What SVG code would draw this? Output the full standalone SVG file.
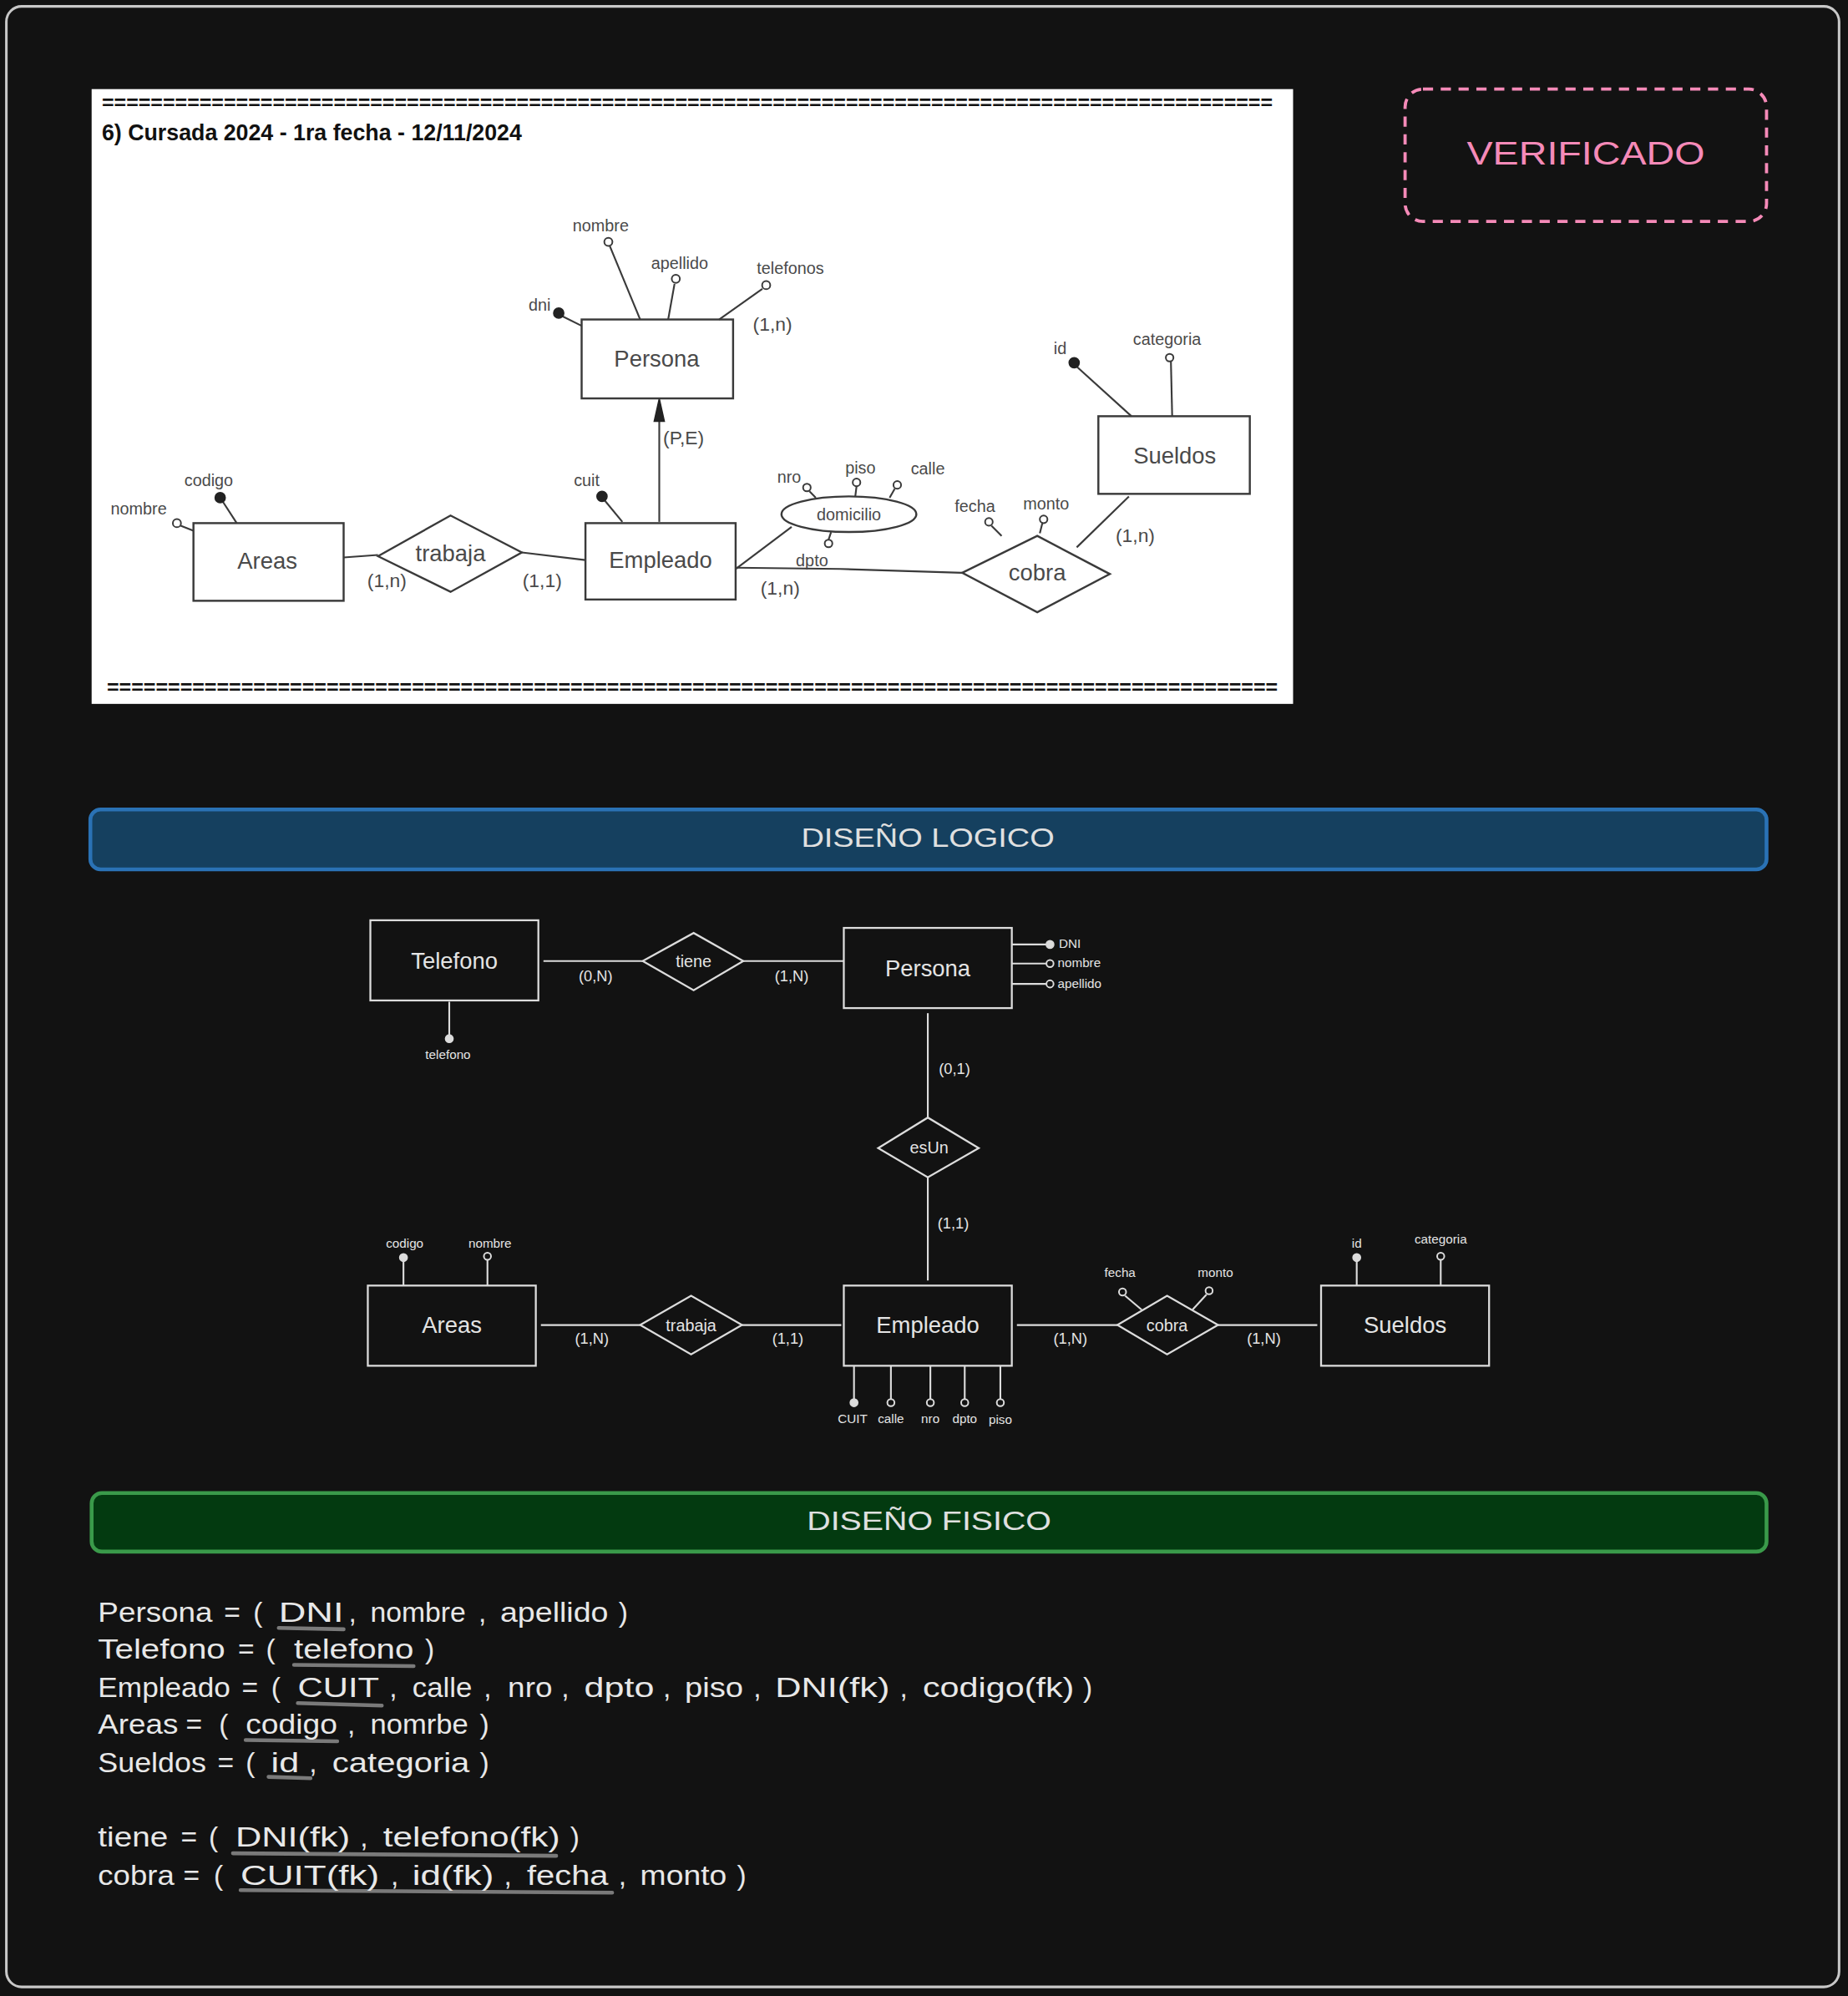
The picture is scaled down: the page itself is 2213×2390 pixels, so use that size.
<svg xmlns="http://www.w3.org/2000/svg" width="2213" height="2390" viewBox="0 0 2213 2390">
<defs>
<style>
.old line,.old polyline{stroke:#3a3a3a;stroke-width:1.4;fill:none}
.old rect,.old polygon.d,.old ellipse{stroke:#3a3a3a;stroke-width:1.6;fill:none}
.old text{font-family:"Liberation Sans",Arial,sans-serif;fill:#4a4a4a}
.oattr{font-size:13px}
.oent{font-size:18px}
.ocard{font-size:15px}
.ocO{fill:#fff;stroke:#3a3a3a;stroke-width:1.3}
.ocF{fill:#222;stroke:#222;stroke-width:1}
.eq{font-family:"Liberation Sans",Arial,sans-serif;font-weight:bold;font-size:16px;fill:#111}
.lg line{stroke:#dcdcdc;stroke-width:1.4}
.lg rect,.lg polygon{stroke:#dcdcdc;stroke-width:1.5;fill:none}
.lg text{font-family:"Liberation Sans",Arial,sans-serif;fill:#e4e4e4;text-anchor:middle}
.ent{font-size:18px}
.rel{font-size:13px}
.card{font-size:12px}
.att{font-size:10px}
.cO{fill:#121212;stroke:#dcdcdc;stroke-width:1.3}
.cF{fill:#dcdcdc;stroke:#dcdcdc;stroke-width:1}
.ph text{font-family:"Liberation Sans",Arial,sans-serif;font-size:22px;fill:#e8e8e8}
.ul{stroke:#7a7a7a;stroke-width:3;stroke-linecap:round}
.ban{font-family:"Liberation Sans",Arial,sans-serif;font-size:21px;fill:#e0e0e0;text-anchor:middle}
</style>
</defs>
<rect x="0" y="0" width="2213" height="2390" fill="#121212"/>
<g transform="scale(1.5241)">
<rect id="frame" x="5" y="5" width="1440" height="1556" rx="12" fill="#121212" stroke="#c8c8c8" stroke-width="2"/>

<g id="screenshot">
<rect x="72" y="70" width="944" height="483" fill="#ffffff"/>
<text class="eq" x="80" y="86" textLength="920" lengthAdjust="spacingAndGlyphs">================================================================================================</text>
<text x="80" y="110" font-family="Liberation Sans,Arial,sans-serif" font-weight="bold" font-size="18" fill="#111" textLength="330" lengthAdjust="spacingAndGlyphs">6) Cursada 2024 - 1ra fecha - 12/11/2024</text>
<text class="eq" x="84" y="545" textLength="920" lengthAdjust="spacingAndGlyphs">================================================================================================</text>
</g>

<g class="old">
<g id="o-connectors">
<line x1="518" y1="410" x2="518" y2="324"/>
<polygon points="518,313 514,331 522,331" fill="#222" stroke="#222"/>
<line x1="270" y1="438" x2="297" y2="436"/>
<line x1="410" y1="434" x2="460" y2="440"/>
<line x1="578" y1="447" x2="622" y2="414"/>
<polyline points="578,446 660,447 756,450"/>
<line x1="846" y1="430" x2="887" y2="390"/>
<line x1="441" y1="248" x2="457" y2="256"/>
<line x1="479" y1="193" x2="503" y2="251"/>
<line x1="530" y1="223" x2="525" y2="251"/>
<line x1="599" y1="227" x2="565" y2="251"/>
<line x1="175" y1="394" x2="186" y2="411"/>
<line x1="142" y1="413" x2="152" y2="417"/>
<line x1="475" y1="393" x2="489" y2="410"/>
<line x1="636" y1="386" x2="641" y2="391"/>
<line x1="673" y1="382" x2="672" y2="390"/>
<line x1="703" y1="384" x2="699" y2="391"/>
<line x1="653" y1="418" x2="651" y2="424"/>
<line x1="779" y1="413" x2="787" y2="421"/>
<line x1="819" y1="411" x2="817" y2="419"/>
<line x1="846" y1="288" x2="889" y2="327"/>
<line x1="920" y1="284" x2="921" y2="327"/>
</g>
<g id="o-persona">
<rect x="457" y="251" width="119" height="62"/>
<text class="oent" x="516" y="288" text-anchor="middle">Persona</text>
<circle class="ocF" cx="439" cy="246" r="4"/><text class="oattr" x="424" y="244" text-anchor="middle">dni</text>
<circle class="ocO" cx="478" cy="190" r="3.2"/><text class="oattr" x="472" y="182" text-anchor="middle">nombre</text>
<circle class="ocO" cx="531" cy="219" r="3.2"/><text class="oattr" x="534" y="211" text-anchor="middle">apellido</text>
<circle class="ocO" cx="602" cy="224" r="3.2"/><text class="oattr" x="621" y="215" text-anchor="middle">telefonos</text>
<text class="ocard" x="607" y="260" text-anchor="middle">(1,n)</text>
<text class="ocard" x="521" y="349">(P,E)</text>
</g>
<g id="o-areas">
<rect x="152" y="411" width="118" height="61"/>
<text class="oent" x="210" y="447" text-anchor="middle">Areas</text>
<circle class="ocF" cx="173" cy="391" r="4"/><text class="oattr" x="164" y="382" text-anchor="middle">codigo</text>
<circle class="ocO" cx="139" cy="411" r="3.2"/><text class="oattr" x="109" y="404" text-anchor="middle">nombre</text>
</g>
<g id="o-trabaja">
<polygon class="d" points="297,437 354,405 410,434 354,465"/>
<text class="oent" x="354" y="441" text-anchor="middle">trabaja</text>
<text class="ocard" x="304" y="461" text-anchor="middle">(1,n)</text>
<text class="ocard" x="426" y="461" text-anchor="middle">(1,1)</text>
</g>
<g id="o-empleado">
<rect x="460" y="411" width="118" height="60"/>
<text class="oent" x="519" y="446" text-anchor="middle">Empleado</text>
<circle class="ocF" cx="473" cy="390" r="4"/><text class="oattr" x="461" y="382" text-anchor="middle">cuit</text>
<text class="ocard" x="613" y="467" text-anchor="middle">(1,n)</text>
</g>
<g id="o-domicilio">
<ellipse cx="667" cy="404" rx="53" ry="14"/>
<text class="oattr" x="667" y="409" text-anchor="middle">domicilio</text>
<circle class="ocO" cx="634" cy="383" r="3"/><text class="oattr" x="620" y="379" text-anchor="middle">nro</text>
<circle class="ocO" cx="673" cy="379" r="3"/><text class="oattr" x="676" y="372" text-anchor="middle">piso</text>
<circle class="ocO" cx="705" cy="381" r="3"/><text class="oattr" x="729" y="373" text-anchor="middle">calle</text>
<circle class="ocO" cx="651" cy="427" r="3"/><text class="oattr" x="638" y="445" text-anchor="middle">dpto</text>
</g>
<g id="o-cobra">
<polygon class="d" points="756,450 815,421 872,451 815,481"/>
<text class="oent" x="815" y="456" text-anchor="middle">cobra</text>
<circle class="ocO" cx="777" cy="410" r="3"/><text class="oattr" x="766" y="402" text-anchor="middle">fecha</text>
<circle class="ocO" cx="820" cy="408" r="3"/><text class="oattr" x="822" y="400" text-anchor="middle">monto</text>
<text class="ocard" x="892" y="426" text-anchor="middle">(1,n)</text>
</g>
<g id="o-sueldos">
<rect x="863" y="327" width="119" height="61"/>
<text class="oent" x="923" y="364" text-anchor="middle">Sueldos</text>
<circle class="ocF" cx="844" cy="285" r="4"/><text class="oattr" x="833" y="278" text-anchor="middle">id</text>
<circle class="ocO" cx="919" cy="281" r="3"/><text class="oattr" x="917" y="271" text-anchor="middle">categoria</text>
</g>
</g>

<g id="verificado">
<rect x="1104" y="70" width="284" height="104" rx="14" fill="none" stroke="#f58ab8" stroke-width="2.5" stroke-dasharray="8,6"/>
<text x="1246" y="129" font-family="Liberation Sans,Arial,sans-serif" font-size="25" fill="#f58ab8" text-anchor="middle" textLength="187" lengthAdjust="spacingAndGlyphs">VERIFICADO</text>
</g>

<g id="banner-logico">
<rect x="71" y="636" width="1317" height="47" rx="8" fill="#15405f" stroke="#2a72b5" stroke-width="3"/>
<text class="ban" x="729" y="665" textLength="199" lengthAdjust="spacingAndGlyphs">DISEÑO LOGICO</text>
</g>

<g class="lg">
<g id="connectors">
<line x1="427" y1="755" x2="505" y2="755"/>
<line x1="584" y1="755" x2="663" y2="755"/>
<line x1="729" y1="796" x2="729" y2="878"/>
<line x1="729" y1="925" x2="729" y2="1006"/>
<line x1="425" y1="1041" x2="503" y2="1041"/>
<line x1="583" y1="1041" x2="661" y2="1041"/>
<line x1="799" y1="1041" x2="878" y2="1041"/>
<line x1="957" y1="1041" x2="1035" y2="1041"/>
</g>
<g id="telefono">
<rect x="291" y="723" width="132" height="63"/>
<text class="ent" x="357" y="761">Telefono</text>
<line x1="353" y1="787" x2="353" y2="813"/>
<circle class="cF" cx="353" cy="816" r="3"/>
<text class="att" x="352" y="832">telefono</text>
</g>
<g id="tiene">
<polygon points="505,755 545,733 584,755 545,778"/>
<text class="rel" x="545" y="760">tiene</text>
<text class="card" x="468" y="771">(0,N)</text>
<text class="card" x="622" y="771">(1,N)</text>
</g>
<g id="persona">
<rect x="663" y="729" width="132" height="63"/>
<text class="ent" x="729" y="767">Persona</text>
<line x1="795" y1="742" x2="822" y2="742"/><circle class="cF" cx="825" cy="742" r="3"/>
<line x1="795" y1="757" x2="822" y2="757"/><circle class="cO" cx="825" cy="757" r="2.8"/>
<line x1="795" y1="773" x2="822" y2="773"/><circle class="cO" cx="825" cy="773" r="2.8"/>
<text class="att" x="832" y="745" style="text-anchor:start">DNI</text>
<text class="att" x="831" y="760" style="text-anchor:start">nombre</text>
<text class="att" x="831" y="776" style="text-anchor:start">apellido</text>
<text class="card" x="750" y="844">(0,1)</text>
</g>
<g id="esUn">
<polygon points="690,902 729,878 769,902 729,925"/>
<text class="rel" x="730" y="906">esUn</text>
<text class="card" x="749" y="965">(1,1)</text>
</g>
<g id="areas">
<rect x="289" y="1010" width="132" height="63"/>
<text class="ent" x="355" y="1047">Areas</text>
<line x1="317" y1="1010" x2="317" y2="990"/><circle class="cF" cx="317" cy="988" r="3"/>
<line x1="383" y1="1010" x2="383" y2="990"/><circle class="cO" cx="383" cy="987" r="2.8"/>
<text class="att" x="318" y="980">codigo</text>
<text class="att" x="385" y="980">nombre</text>
</g>
<g id="trabaja">
<polygon points="503,1041 543,1018 583,1041 543,1064"/>
<text class="rel" x="543" y="1046">trabaja</text>
<text class="card" x="465" y="1056">(1,N)</text>
<text class="card" x="619" y="1056">(1,1)</text>
</g>
<g id="empleado">
<rect x="663" y="1010" width="132" height="63"/>
<text class="ent" x="729" y="1047">Empleado</text>
<line x1="671" y1="1073" x2="671" y2="1099"/><circle class="cF" cx="671" cy="1102" r="3"/>
<line x1="700" y1="1073" x2="700" y2="1099"/><circle class="cO" cx="700" cy="1102" r="2.8"/>
<line x1="731" y1="1073" x2="731" y2="1099"/><circle class="cO" cx="731" cy="1102" r="2.8"/>
<line x1="758" y1="1073" x2="758" y2="1099"/><circle class="cO" cx="758" cy="1102" r="2.8"/>
<line x1="786" y1="1073" x2="786" y2="1099"/><circle class="cO" cx="786" cy="1102" r="2.8"/>
<text class="att" x="670" y="1118">CUIT</text>
<text class="att" x="700" y="1118">calle</text>
<text class="att" x="731" y="1118">nro</text>
<text class="att" x="758" y="1118">dpto</text>
<text class="att" x="786" y="1119">piso</text>
</g>
<g id="cobra">
<polygon points="878,1041 917,1018 957,1041 917,1064"/>
<text class="rel" x="917" y="1046">cobra</text>
<line x1="884" y1="1018" x2="897" y2="1029"/><circle class="cO" cx="882" cy="1015" r="2.8"/>
<line x1="948" y1="1017" x2="937" y2="1029"/><circle class="cO" cx="950" cy="1014" r="2.8"/>
<text class="att" x="880" y="1003">fecha</text>
<text class="att" x="955" y="1003">monto</text>
<text class="card" x="841" y="1056">(1,N)</text>
<text class="card" x="993" y="1056">(1,N)</text>
</g>
<g id="sueldos">
<rect x="1038" y="1010" width="132" height="63"/>
<text class="ent" x="1104" y="1047">Sueldos</text>
<line x1="1066" y1="1010" x2="1066" y2="990"/><circle class="cF" cx="1066" cy="988" r="3"/>
<line x1="1132" y1="1010" x2="1132" y2="990"/><circle class="cO" cx="1132" cy="987" r="2.8"/>
<text class="att" x="1066" y="980">id</text>
<text class="att" x="1132" y="977">categoria</text>
</g>
</g>

<g id="banner-fisico">
<rect x="72" y="1173" width="1316" height="46" rx="8" fill="#033a10" stroke="#3a9a4a" stroke-width="3"/>
<text class="ban" x="730" y="1202" textLength="192" lengthAdjust="spacingAndGlyphs">DISEÑO FISICO</text>
</g>

<g id="fisico" class="ph">
<line class="ul" x1="219" y1="1279" x2="270" y2="1280"/>
<line class="ul" x1="231" y1="1308" x2="325" y2="1309"/>
<line class="ul" x1="234" y1="1338" x2="300" y2="1340"/>
<line class="ul" x1="193" y1="1367" x2="265" y2="1368"/>
<line class="ul" x1="211" y1="1396" x2="244" y2="1397"/>
<line class="ul" x1="183" y1="1456" x2="437" y2="1458"/>
<line class="ul" x1="189" y1="1485" x2="481" y2="1487"/>

<g id="t-persona">
<text x="77" y="1274" textLength="90" lengthAdjust="spacingAndGlyphs">Persona</text>
<text x="176" y="1274">=</text><text x="199" y="1274">(</text>
<text x="219" y="1274" textLength="51" lengthAdjust="spacingAndGlyphs">DNI</text>
<text x="274" y="1274">,</text>
<text x="291" y="1274" textLength="75" lengthAdjust="spacingAndGlyphs">nombre</text>
<text x="376" y="1274">,</text>
<text x="393" y="1274" textLength="85" lengthAdjust="spacingAndGlyphs">apellido</text>
<text x="486" y="1274">)</text>
</g>
<g id="t-telefono">
<text x="77" y="1303" textLength="100" lengthAdjust="spacingAndGlyphs">Telefono</text>
<text x="187" y="1303">=</text><text x="209" y="1303">(</text>
<text x="231" y="1303" textLength="94" lengthAdjust="spacingAndGlyphs">telefono</text>
<text x="334" y="1303">)</text>
</g>
<g id="t-empleado">
<text x="77" y="1333" textLength="104" lengthAdjust="spacingAndGlyphs">Empleado</text>
<text x="190" y="1333">=</text><text x="213" y="1333">(</text>
<text x="234" y="1333" textLength="64" lengthAdjust="spacingAndGlyphs">CUIT</text>
<text x="306" y="1333">,</text>
<text x="324" y="1333" textLength="47" lengthAdjust="spacingAndGlyphs">calle</text>
<text x="380" y="1333">,</text>
<text x="399" y="1333" textLength="35" lengthAdjust="spacingAndGlyphs">nro</text>
<text x="441" y="1333">,</text>
<text x="459" y="1333" textLength="55" lengthAdjust="spacingAndGlyphs">dpto</text>
<text x="521" y="1333">,</text>
<text x="538" y="1333" textLength="46" lengthAdjust="spacingAndGlyphs">piso</text>
<text x="592" y="1333">,</text>
<text x="609" y="1333" textLength="90" lengthAdjust="spacingAndGlyphs">DNI(fk)</text>
<text x="707" y="1333">,</text>
<text x="725" y="1333" textLength="119" lengthAdjust="spacingAndGlyphs">codigo(fk)</text>
<text x="851" y="1333">)</text>
</g>
<g id="t-areas">
<text x="77" y="1362" textLength="63" lengthAdjust="spacingAndGlyphs">Areas</text>
<text x="146" y="1362">=</text><text x="172" y="1362">(</text>
<text x="193" y="1362" textLength="72" lengthAdjust="spacingAndGlyphs">codigo</text>
<text x="273" y="1362">,</text>
<text x="291" y="1362" textLength="77" lengthAdjust="spacingAndGlyphs">nomrbe</text>
<text x="377" y="1362">)</text>
</g>
<g id="t-sueldos">
<text x="77" y="1392" textLength="85" lengthAdjust="spacingAndGlyphs">Sueldos</text>
<text x="171" y="1392">=</text><text x="193" y="1392">(</text>
<text x="213" y="1392" textLength="22" lengthAdjust="spacingAndGlyphs">id</text>
<text x="243" y="1392">,</text>
<text x="261" y="1392" textLength="108" lengthAdjust="spacingAndGlyphs">categoria</text>
<text x="377" y="1392">)</text>
</g>
<g id="t-tiene">
<text x="77" y="1451" textLength="55" lengthAdjust="spacingAndGlyphs">tiene</text>
<text x="142" y="1451">=</text><text x="164" y="1451">(</text>
<text x="185" y="1451" textLength="90" lengthAdjust="spacingAndGlyphs">DNI(fk)</text>
<text x="283" y="1451">,</text>
<text x="301" y="1451" textLength="139" lengthAdjust="spacingAndGlyphs">telefono(fk)</text>
<text x="448" y="1451">)</text>
</g>
<g id="t-cobra">
<text x="77" y="1481" textLength="60" lengthAdjust="spacingAndGlyphs">cobra</text>
<text x="144" y="1481">=</text><text x="168" y="1481">(</text>
<text x="189" y="1481" textLength="109" lengthAdjust="spacingAndGlyphs">CUIT(fk)</text>
<text x="307" y="1481">,</text>
<text x="324" y="1481" textLength="64" lengthAdjust="spacingAndGlyphs">id(fk)</text>
<text x="396" y="1481">,</text>
<text x="414" y="1481" textLength="64" lengthAdjust="spacingAndGlyphs">fecha</text>
<text x="486" y="1481">,</text>
<text x="503" y="1481" textLength="68" lengthAdjust="spacingAndGlyphs">monto</text>
<text x="579" y="1481">)</text>
</g>
</g>
</g>
</svg>
